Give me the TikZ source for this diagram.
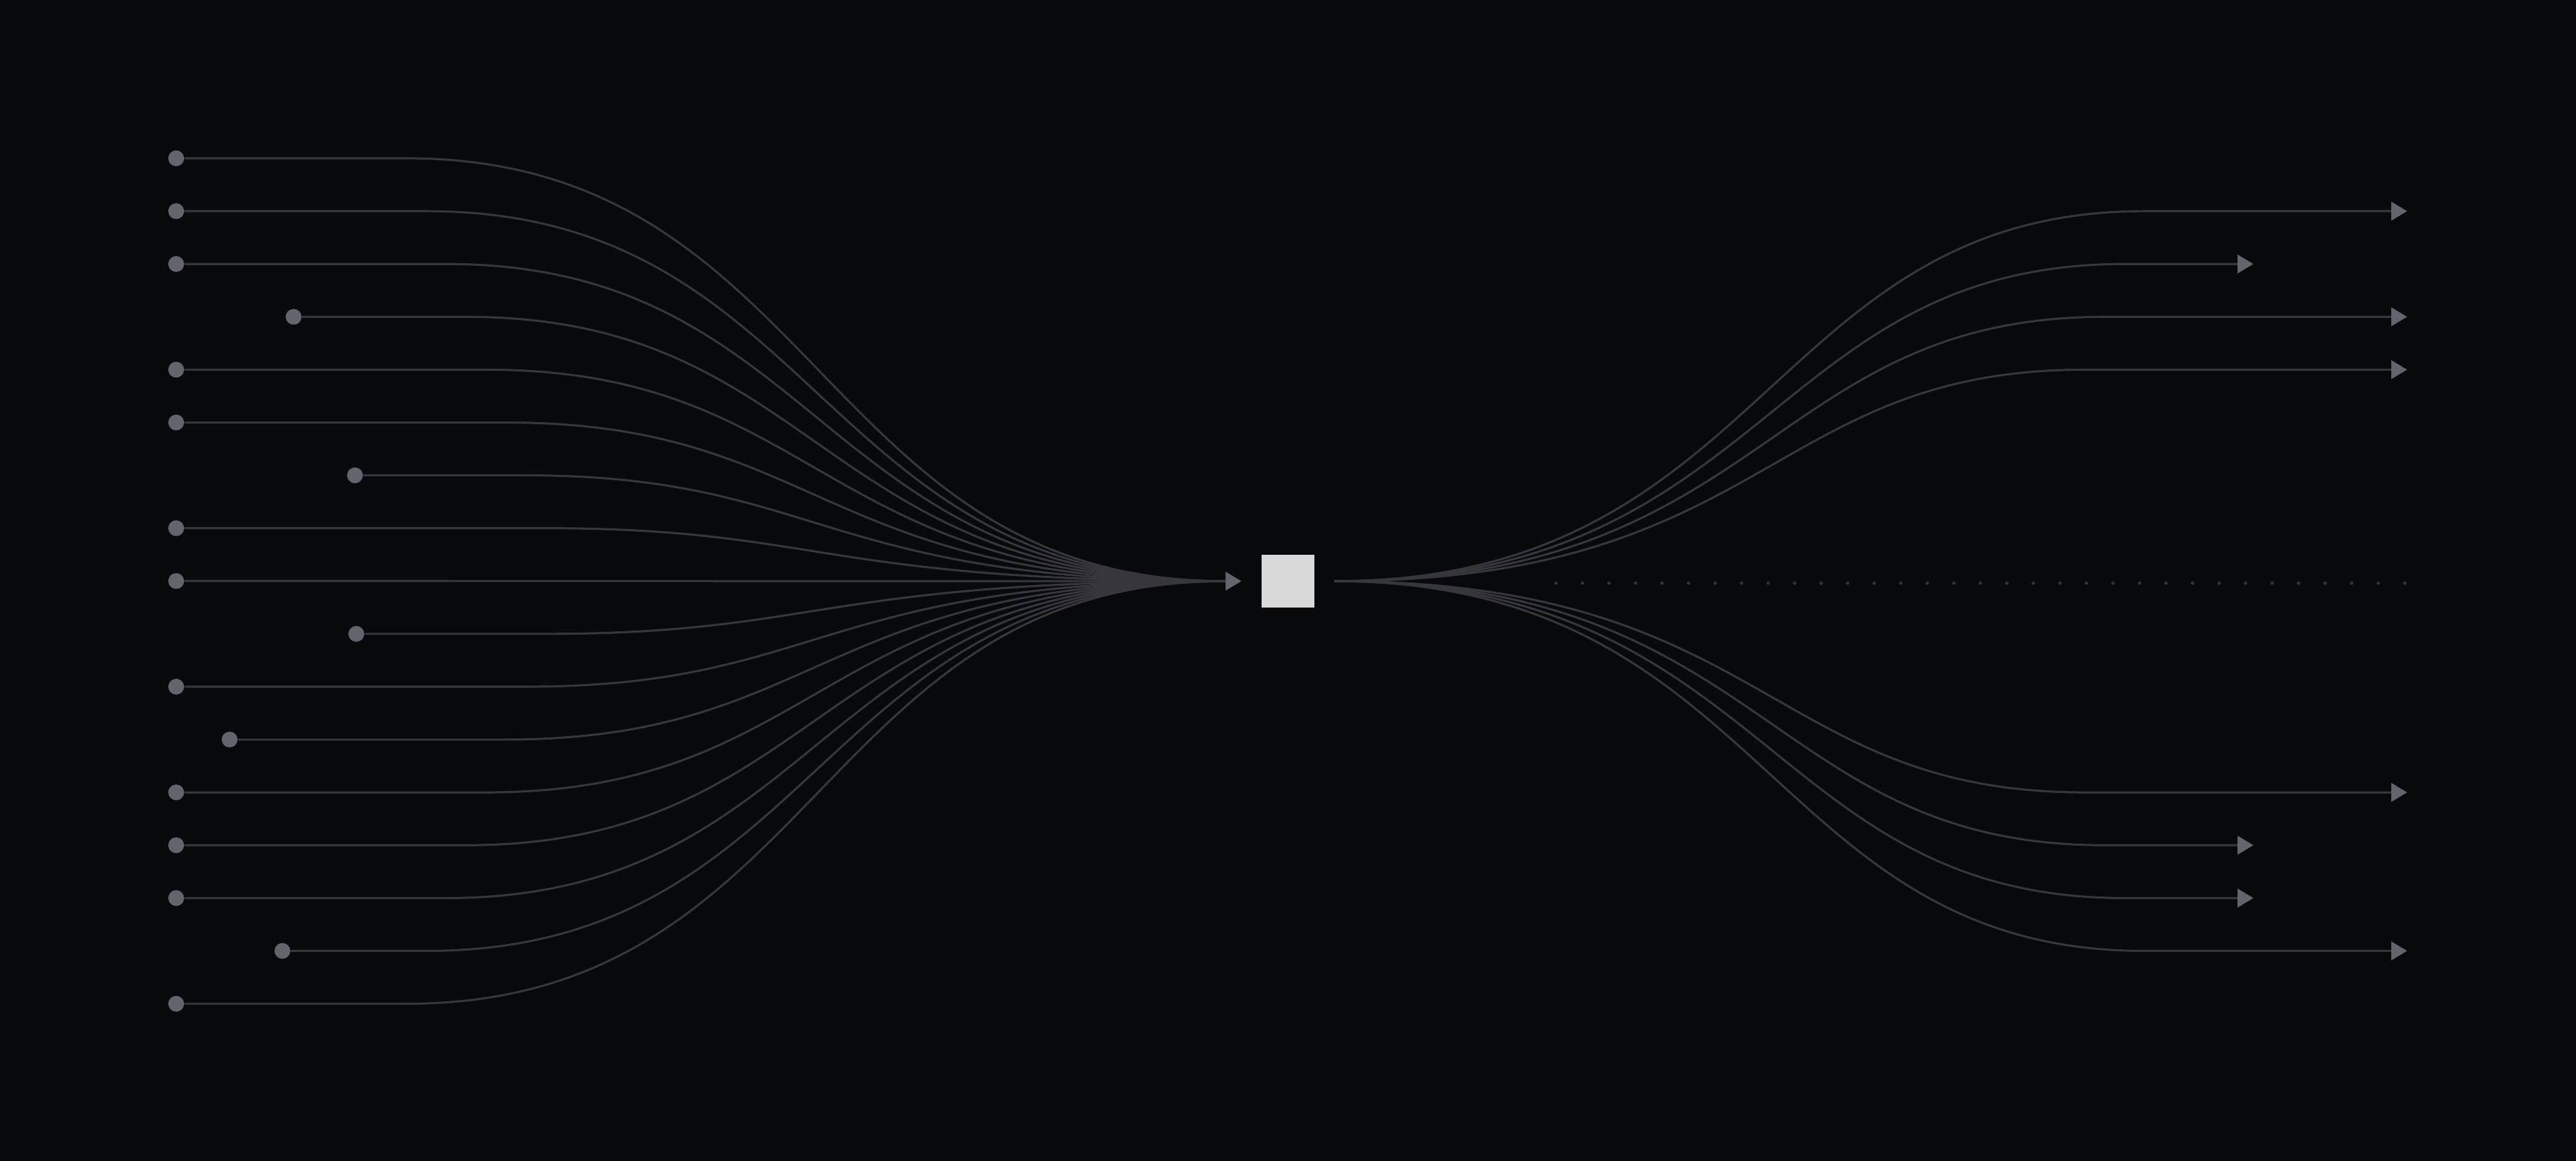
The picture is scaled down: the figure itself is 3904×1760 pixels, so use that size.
\documentclass[tikz,border=0pt]{standalone}
\usepackage{tikz}
\usetikzlibrary{arrows.meta}

\definecolor{bg}{HTML}{08090B}
\definecolor{wire}{HTML}{36363B}
\definecolor{pin}{HTML}{61656C}
\definecolor{hubfill}{HTML}{D9D9D9}
\definecolor{trail}{HTML}{313237}

\begin{document}
\begin{tikzpicture}[x=0.1mm, y=-0.1mm]
    \tikzstyle{pin} = [circle, fill=pin, inner sep=0pt, minimum size=2.4mm]
    \tikzstyle{wire} = [draw=wire, line width=0.32mm]
    \tikzstyle{tip} = [-{Triangle[length=2.4mm, width=2.8mm, color=pin]}]

    \fill [bg] (0, 0) rectangle (3904, 1760);

    % inputs
    \foreach \n/\x in {0/267, 1/267, 2/267, 3/445, 4/267, 5/267, 6/538, 7/267, 8/267,
                       9/540, 10/267, 11/348, 12/267, 13/267, 14/267, 15/428, 16/267}
      \node [pin] (in\n) at (\x, {240 + 80.1*\n}) {};

    \node [fill=hubfill, inner sep=0pt, minimum size=8mm] (hub) at (1952, 881) {};
    \coordinate (merge) at (1857, 881);
    \coordinate (split) at (2022, 881);

    \foreach \n in {0,...,7,9,10,...,16} {
      \pgfmathsetmacro\yy{240 + 80.1*\n}
      \pgfmathsetmacro\xb{856 - 30*abs(\n - 8)}
      \draw [wire] (in\n) -- (\xb, \yy) .. controls (1241, \yy) and (1241, 881) .. (merge);
    }
    \draw [wire, tip] (in8) -- ([xshift=-3mm]hub.west);

    % outputs
    \foreach \n/\x in {1/3648, 2/3415, 3/3648, 4/3648, 12/3648, 13/3415, 14/3415, 15/3648} {
      \pgfmathsetmacro\yy{240 + 80.1*\n}
      \pgfmathsetmacro\xe{3040 + 30*abs(\n - 8)}
      \coordinate (out\n) at (\x, \yy);
      \draw [wire, tip] (split) .. controls (2680, 881) and (2680, \yy) .. (\xe, \yy) -- (out\n);
    }

    \foreach \i in {0, ..., 32}
      \fill [trail] ({2358 + 40.2*\i}, 884) circle [radius=0.27mm];
  \end{tikzpicture}
\end{document}
